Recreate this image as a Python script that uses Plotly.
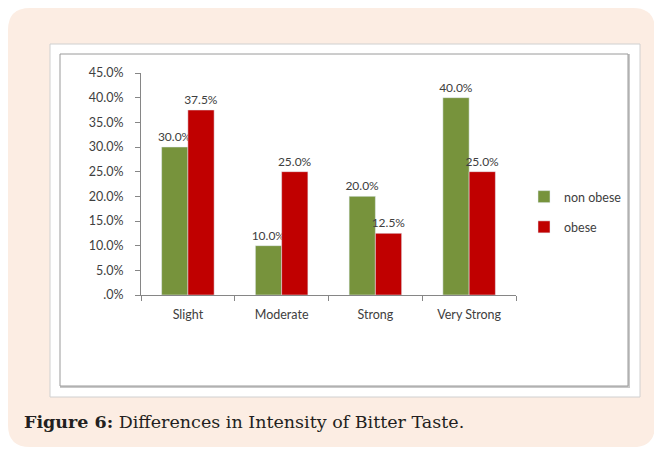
import plotly.graph_objects as go

categories = ["Slight", "Moderate", "Strong", "Very Strong"]
non_obese = [30.0, 10.0, 20.0, 40.0]
obese = [37.5, 25.0, 12.5, 25.0]
tick_vals = [0, 5, 10, 15, 20, 25, 30, 35, 40, 45]
tick_text = [".0%", "5.0%", "10.0%", "15.0%", "20.0%", "25.0%",
             "30.0%", "35.0%", "40.0%", "45.0%"]

# the page body adds an 8px margin, so the figure starts at (8, 8) on screen
OFF = 8
W, H = 662 - OFF, 455 - OFF
# plot area in screen pixels
L, R, T, B = 141, 516, 73, 295


def px(x):
    return (x - L) / (R - L)


def py(y):
    return (B - y) / (B - T)


def rounded_rect(x0, y0, x1, y1, r):
    # path in paper coords built from screen pixel corners
    return (f"M {px(x0 + r)} {py(y0)} L {px(x1 - r)} {py(y0)} "
            f"Q {px(x1)} {py(y0)} {px(x1)} {py(y0 + r)} "
            f"L {px(x1)} {py(y1 - r)} Q {px(x1)} {py(y1)} {px(x1 - r)} {py(y1)} "
            f"L {px(x0 + r)} {py(y1)} Q {px(x0)} {py(y1)} {px(x0)} {py(y1 - r)} "
            f"L {px(x0)} {py(y0 + r)} Q {px(x0)} {py(y0)} {px(x0 + r)} {py(y0)} Z")


font = "Lato, 'Open Sans', sans-serif"
txt = "#404040"
fs = 12.5

fig = go.Figure()
fig.add_trace(go.Bar(x=categories, y=non_obese, name="non obese",
                     marker_color="#77933C", legendgroup="a",
                     text=[f"{v:.1f}%" for v in non_obese],
                     textposition="outside", cliponaxis=False, constraintext="none",
                     textfont=dict(size=12, color=txt, family=font)))
fig.add_trace(go.Bar(x=categories, y=obese, name="obese",
                     marker_color="#C00000", legendgroup="b",
                     text=[f"{v:.1f}%" for v in obese],
                     textposition="outside", cliponaxis=False, constraintext="none",
                     textfont=dict(size=12, color=txt, family=font)))

shapes = [
    dict(type="path", path=rounded_rect(8, 8, 655, 447, 22), xref="paper", yref="paper",
         fillcolor="#FCEDE3", line=dict(width=0), layer="below"),
    dict(type="rect", x0=px(50), x1=px(640), y0=py(44), y1=py(397), xref="paper", yref="paper",
         fillcolor="white", line=dict(color="#D0D0D0", width=1), layer="below"),
    dict(type="rect", x0=px(61), x1=px(629), y0=py(55), y1=py(387), xref="paper", yref="paper",
         fillcolor="rgba(0,0,0,0)", line=dict(color="#C8C8C8", width=2), layer="below"),
    dict(type="rect", x0=px(60), x1=px(628), y0=py(54), y1=py(386), xref="paper", yref="paper",
         fillcolor="white", line=dict(color="#9A9A9A", width=1), layer="below"),
]

fig.update_layout(
    width=W, height=H,
    margin=dict(l=L - OFF, r=W - (R - OFF), t=T - OFF, b=H - (B - OFF), pad=0),
    paper_bgcolor="white", plot_bgcolor="rgba(0,0,0,0)",
    barmode="group", bargap=0.44, bargroupgap=0,
    font=dict(family=font, size=fs, color=txt),
    showlegend=True,
    legend=dict(x=px(524), y=py(182), xanchor="left", yanchor="top",
                bgcolor="rgba(0,0,0,0)", font=dict(size=fs, color=txt),
                tracegroupgap=11, itemwidth=30),
    shapes=shapes,
    annotations=[dict(text="<b>Figure 6:</b> Differences in Intensity of Bitter Taste.",
                      x=px(22), y=py(422), xref="paper", yref="paper",
                      xanchor="left", yanchor="middle", showarrow=False,
                      font=dict(family="'DejaVu Serif', serif", size=17.5, color="#231F20"))],
)
fig.update_xaxes(showline=True, linecolor="#868686", linewidth=1,
                 ticks="outside", tickson="boundaries", ticklen=5, tickcolor="#868686",
                 ticklabelstandoff=8,
                 tickfont=dict(size=fs, color=txt), showgrid=False)
fig.update_yaxes(range=[0, 45], tickvals=tick_vals, ticktext=tick_text,
                 showline=True, linecolor="#868686", linewidth=1,
                 ticks="outside", ticklen=5, tickcolor="#868686",
                 ticklabelstandoff=9,
                 tickfont=dict(size=fs, color=txt), showgrid=False, zeroline=False)

fig.write_html("out.html")
